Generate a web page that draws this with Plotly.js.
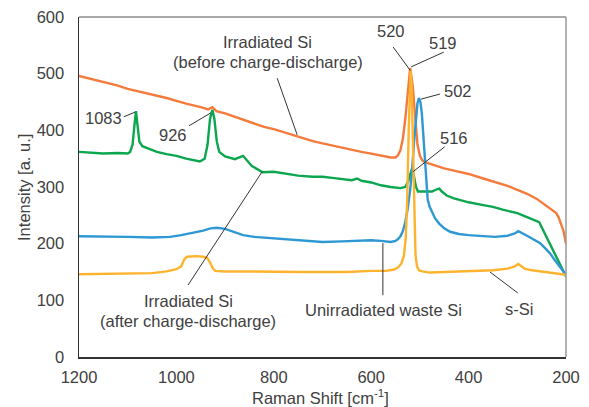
<!DOCTYPE html>
<html><head><meta charset="utf-8">
<script src="https://cdn.plot.ly/plotly-3.0.1.min.js"></script>
<style>html,body{margin:0;padding:0;background:#fff}#chart{width:589px;height:407px}</style>
</head><body><div id="chart"></div>
<script>
// Irradiated Si (before charge-discharge) - orange
const beforeX = [1200,1180,1150,1120,1100,1080,1050,1020,1000,980,950,935,926,918,900,870,850,820,800,770,750,720,700,670,650,620,600,580,560,550,545,540,535,530,525,520,515,510,505,500,495,490,480,470,450,430,400,370,350,320,300,280,260,250,240,230,220,215,210,205,200];
const beforeY = [496,492,485,479,473,469,464,457,452,447,441,437,441,434,430,421,414,406,402,394,388,381,377,371,367,362,359,355,352,352,356,365,385,420,470,510,480,420,375,355,347,344,341,338,333,329,323,315,310,302,295,288,279,273,266,260,254,246,235,222,200];
// Irradiated Si (after charge-discharge) - green
const afterX = [1200,1180,1150,1120,1100,1095,1090,1086,1083,1080,1076,1070,1050,1040,1020,1000,980,966,952,942,936,931,926,922,917,912,900,880,870,863,858,845,835,823,800,770,750,720,700,680,660,640,629,620,600,580,560,540,530,524,520,516,512,508,504,500,490,475,465,460,455,445,430,400,370,350,330,300,280,265,255,200];
const afterY = [362,361,359,360,359,362,375,410,434,410,380,372,366,362,358,355,350,348,345,350,375,420,436,420,380,362,354,349,352,355,350,337,332,326,327,322,320,318,318,316,314,312,315,311,308,303,300,298,300,310,322,333,318,300,292,292,291,292,296,297,292,285,280,273,268,265,260,254,247,242,238,142];
// Unirradiated waste Si - blue
const wasteX = [1200,1150,1100,1050,1013,990,972,960,945,930,917,900,880,863,840,810,760,720,700,660,620,600,580,560,550,545,540,535,530,525,520,516,512,508,505,502,499,496,493,490,487,484,480,475,469,460,450,438,420,400,370,346,320,305,298,290,280,270,260,253,243,233,222,212,200];
const wasteY = [213,213,212,211,212,215,218,220,223,227,228,226,220,215,212,210,207,204,203,204,206,206,205,203,205,208,213,222,238,262,295,330,380,420,448,457,450,430,390,340,300,278,265,255,245,235,227,221,217,215,213,212,214,218,222,219,214,209,205,201,192,183,170,159,145];
// s-Si - yellow
const ssiX = [1200,1150,1100,1050,1020,1000,990,984,978,960,945,937,931,925,920,900,850,800,750,700,650,600,570,555,545,538,533,529,526,523,520,519,517,515,513,511,509,506,502,495,480,450,420,400,370,350,320,305,298,292,285,270,250,230,215,200];
const ssiY = [146,147,147,148,151,155,160,172,177,178,177,175,167,156,152,151,151,150,150,150,150,152,152,154,158,165,178,210,280,400,495,505,480,400,300,220,180,160,153,151,149,150,151,152,152,153,156,160,164,160,156,153,151,149,147,145];

const xTicks = [1200,1000,800,600,400,200];
const yTicks = [0,100,200,300,400,500,600];

const FONT = 'Liberation Sans, Arial, sans-serif';
const TXT = '#404040';

function tr(x, y, c){ return {x:x, y:y, type:'scatter', mode:'lines', line:{color:c, width:2.4}, hoverinfo:'skip', showlegend:false}; }
const data = [
  tr(beforeX, beforeY, '#F47B3C'),
  tr(afterX, afterY, '#0BA64E'),
  tr(wasteX, wasteY, '#2E98D3'),
  tr(ssiX, ssiY, '#FDB32E')
];

// label annotations [text, x, y]
const labels = [
  ['Irradiated Si', 812, 556],
  ['(before charge-discharge)', 812, 520],
  ['1083', 1149, 422],
  ['926', 1007, 392],
  ['520', 559, 575],
  ['519', 453, 554],
  ['502', 422, 469],
  ['516', 430, 386],
  ['Irradiated Si', 976, 99],
  ['(after charge-discharge)', 976, 63],
  ['Unirradiated waste Si', 574, 83],
  ['s-Si', 297, 85]
];
// leader lines [x0,y0,x1,y1]
const leaders = [
  [793,492,752,392],
  [1108,424,1085,432],
  [974,408,929,431],
  [555,547,520,506],
  [451,538,518,512],
  [459,464,498,455],
  [449,371,514,327],
  [976,127,824,327],
  [576,109,576,201],
  [299,113,356,150]
];

const annotations = labels.map(l => ({text:l[0], x:l[1], y:l[2], xref:'x', yref:'y', showarrow:false,
  font:{family:FONT, size:16.5, color:TXT}, xanchor:'center', yanchor:'middle'}));
annotations.push({text:'Raman Shift [cm<sup>-1</sup>]', xref:'paper', yref:'paper', x:0.495, y:-0.118,
  showarrow:false, xanchor:'center', yanchor:'middle', font:{family:FONT, size:16.5, color:TXT}});
annotations.push({text:'Intensity [a. u.]', xref:'paper', yref:'paper', x:-0.113, y:0.5, textangle:-90,
  showarrow:false, xanchor:'center', yanchor:'middle', font:{family:FONT, size:16.5, color:TXT}});

const shapes = leaders.map(s => ({type:'line', xref:'x', yref:'y', x0:s[0], y0:s[1], x1:s[2], y1:s[3], line:{color:'#333', width:1}}));
shapes.push({type:'line', xref:'paper', yref:'paper', x0:0, x1:1, y0:1, y1:1, line:{color:'#555', width:1.2}});
shapes.push({type:'line', xref:'paper', yref:'paper', x0:1, x1:1, y0:0, y1:1, line:{color:'#999', width:1.5}});

const layout = {
  width:589, height:407,
  margin:{l:79, r:23, t:17, b:50},
  paper_bgcolor:'#fff', plot_bgcolor:'#fff',
  font:{family:FONT, color:TXT},
  xaxis:{range:[1200,200], tickvals:xTicks, ticktext:xTicks.map(String), showgrid:false, zeroline:false,
    showline:true, linecolor:'#333', linewidth:1.5, ticks:'outside', ticklen:5, tickcolor:'rgba(0,0,0,0)',
    tickfont:{family:FONT, size:16.5, color:TXT}},
  yaxis:{range:[0,600], tickvals:yTicks, ticktext:yTicks.map(String), showgrid:false, zeroline:false,
    showline:true, linecolor:'#333', linewidth:1.5, ticks:'outside', ticklen:10, tickcolor:'rgba(0,0,0,0)',
    tickfont:{family:FONT, size:16.5, color:TXT}},
  annotations:annotations,
  shapes:shapes
};
Plotly.newPlot('chart', data, layout, {displayModeBar:false, staticPlot:true});
</script></body></html>
